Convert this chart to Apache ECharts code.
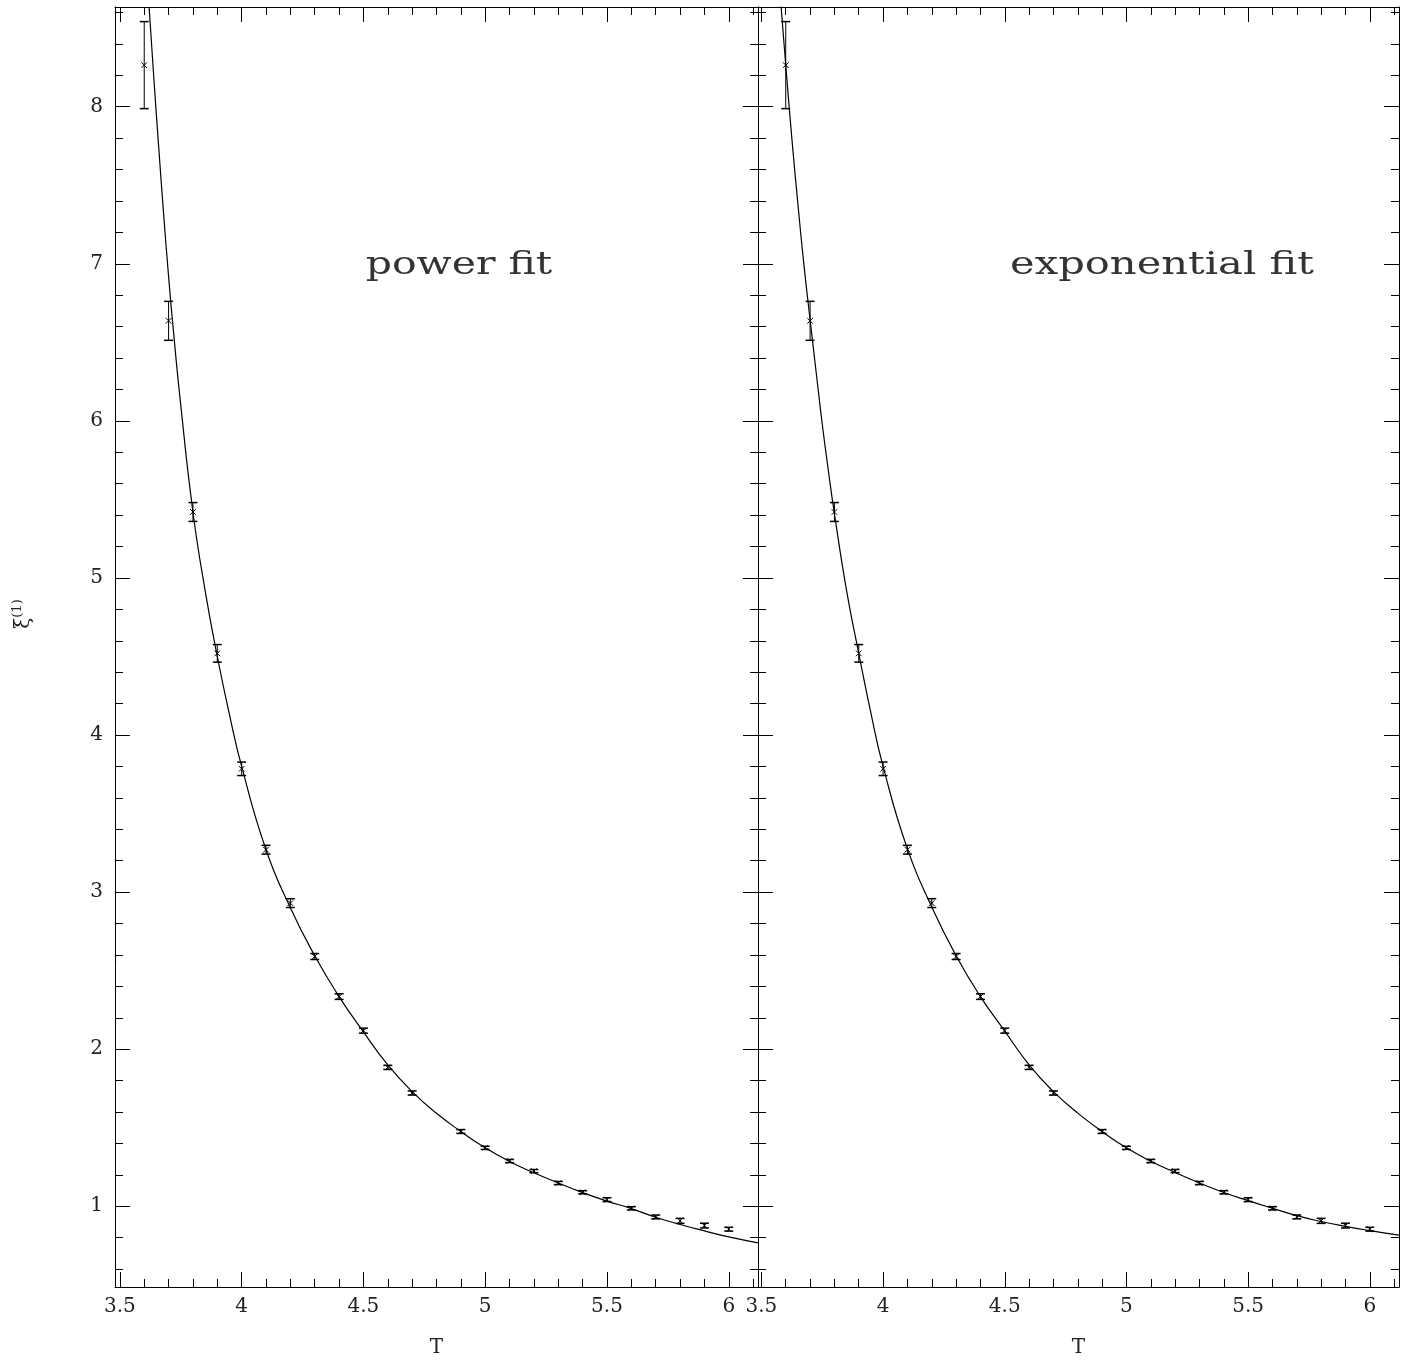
<!DOCTYPE html>
<html>
<head>
<meta charset="utf-8">
<title>xi(1) vs T</title>
<script src="https://cdn.jsdelivr.net/npm/echarts@6/dist/echarts.min.js"></script>
<style>
  html, body { margin: 0; padding: 0; background: #fff; }
  #main { width: 1411px; height: 1363px; }
</style>
</head>
<body>
<div id="main"></div>
<script>
// measured points, same data in both panels (T = 4.8 is missing)
var T = [3.6, 3.7, 3.8, 3.9, 4.0, 4.1, 4.2, 4.3, 4.4, 4.5, 4.6, 4.7,
         4.9, 5.0, 5.1, 5.2, 5.3, 5.4, 5.5, 5.6, 5.7, 5.8, 5.9, 6.0];
var xi = [8.265, 6.637, 5.42, 4.52, 3.785, 3.27, 2.93, 2.59, 2.335, 2.118, 1.884, 1.721,
          1.476, 1.372, 1.288, 1.224, 1.148, 1.089, 1.042, 0.987, 0.932, 0.907, 0.877, 0.854];
var xiErr = [0.277, 0.124, 0.06, 0.056, 0.043, 0.028, 0.028, 0.019, 0.018, 0.016, 0.013, 0.013,
             0.012, 0.01, 0.01, 0.01, 0.01, 0.01, 0.012, 0.01, 0.012, 0.016, 0.015, 0.012];

// power fit curve
var powerT = [3.62, 3.64, 3.66, 3.68, 3.70, 3.72, 3.75, 3.80, 3.85, 3.90, 3.95, 4.0,
              4.1, 4.2, 4.3, 4.4, 4.5, 4.6, 4.7, 4.8, 4.9, 5.0, 5.1, 5.2, 5.3, 5.4,
              5.5, 5.6, 5.7, 5.8, 5.9, 6.0, 6.12];
var powerXi = [8.635, 8.17, 7.73, 7.31, 6.92, 6.57, 6.10, 5.42, 4.92, 4.50, 4.13, 3.80,
               3.27, 2.90, 2.595, 2.335, 2.11, 1.90, 1.73, 1.592, 1.476, 1.372, 1.285, 1.213, 1.148, 1.087,
               1.033, 0.985, 0.930, 0.884, 0.843, 0.805, 0.767];

// exponential fit curve
var expT = [3.58, 3.60, 3.625, 3.65, 3.675, 3.70, 3.725, 3.75, 3.775, 3.80, 3.85, 3.90, 3.95, 4.0,
            4.1, 4.2, 4.3, 4.4, 4.5, 4.6, 4.7, 4.8, 4.9, 5.0, 5.1, 5.2, 5.3, 5.4,
            5.5, 5.6, 5.7, 5.8, 5.9, 6.0, 6.12];
var expXi = [8.655, 8.265, 7.80, 7.38, 6.99, 6.645, 6.31, 5.98, 5.685, 5.41, 4.92, 4.52, 4.14, 3.80,
             3.275, 2.905, 2.595, 2.335, 2.115, 1.90, 1.73, 1.593, 1.476, 1.372, 1.287, 1.215, 1.148, 1.088,
             1.036, 0.987, 0.94, 0.903, 0.872, 0.845, 0.816];

// ticks
var xMajor = [3.5, 4, 4.5, 5, 5.5, 6];
var xMinor = [3.5, 3.6, 3.7, 3.8, 3.9, 4.0, 4.1, 4.2, 4.3, 4.4, 4.5, 4.6, 4.7, 4.8, 4.9,
              5.0, 5.1, 5.2, 5.3, 5.4, 5.5, 5.6, 5.7, 5.8, 5.9, 6.0, 6.1];
var yMajor = [1, 2, 3, 4, 5, 6, 7, 8];
var yMinor = [0.6, 0.8, 1.0, 1.2, 1.4, 1.6, 1.8, 2.0, 2.2, 2.4, 2.6, 2.8, 3.0, 3.2, 3.4, 3.6,
              3.8, 4.0, 4.2, 4.4, 4.6, 4.8, 5.0, 5.2, 5.4, 5.6, 5.8, 6.0, 6.2, 6.4, 6.6, 6.8,
              7.0, 7.2, 7.4, 7.6, 7.8, 8.0, 8.2, 8.4, 8.6];

var FONT = 'DejaVu Serif';
var yMin = 0.486, yMax = 8.635;
var xRange = [[3.48, 6.12], [3.486, 6.12]];

var errData = T.map(function (t, i) { return [t, xi[i], xiErr[i]]; });

function renderErr(params, api) {
  var x = api.value(0), y = api.value(1), e = api.value(2);
  var c = api.coord([x, y]);
  var hi = api.coord([x, y + e])[1];
  var lo = api.coord([x, y - e])[1];
  var cap = 4.5, m = 2.8;
  var st = { stroke: '#000', lineWidth: 1, fill: null };
  var capSt = { stroke: '#000', lineWidth: 1.5, fill: null };
  return {
    type: 'group',
    children: [
      { type: 'line', shape: { x1: c[0], y1: hi, x2: c[0], y2: lo }, style: st },
      { type: 'line', shape: { x1: c[0] - cap, y1: hi, x2: c[0] + cap, y2: hi }, style: capSt },
      { type: 'line', shape: { x1: c[0] - cap, y1: lo, x2: c[0] + cap, y2: lo }, style: capSt },
      { type: 'line', shape: { x1: c[0] - m, y1: c[1] - m, x2: c[0] + m, y2: c[1] + m }, style: st },
      { type: 'line', shape: { x1: c[0] - m, y1: c[1] + m, x2: c[0] + m, y2: c[1] - m }, style: st }
    ]
  };
}

function xAxes(g) {
  var base = { gridIndex: g, type: 'value', min: xRange[g][0], max: xRange[g][1],
               splitLine: { show: false }, axisLine: { show: true, onZero: false, lineStyle: { color: '#000', width: 1 } } };
  return [
    Object.assign({}, base, {
      position: 'bottom',
      axisTick: { inside: true, length: 15, customValues: xMajor, lineStyle: { color: '#000' } },
      axisLabel: { customValues: xMajor, fontFamily: FONT, fontSize: 20, color: '#222', margin: 10 },
      name: 'T', nameLocation: 'middle', nameGap: 51,
      nameTextStyle: { fontFamily: FONT, fontSize: 20, color: '#222' }
    }),
    Object.assign({}, base, {
      position: 'bottom', axisLine: { show: false, onZero: false },
      axisTick: { inside: true, length: 8, customValues: xMinor, lineStyle: { color: '#000' } },
      axisLabel: { show: false }
    }),
    Object.assign({}, base, {
      position: 'top',
      axisTick: { inside: true, length: 15, customValues: xMajor, lineStyle: { color: '#000' } },
      axisLabel: { show: false }
    }),
    Object.assign({}, base, {
      position: 'top', axisLine: { show: false, onZero: false },
      axisTick: { inside: true, length: 8, customValues: xMinor, lineStyle: { color: '#000' } },
      axisLabel: { show: false }
    })
  ];
}

function yAxes(g) {
  var base = { gridIndex: g, type: 'value', min: yMin, max: yMax,
               splitLine: { show: false }, axisLine: { show: true, onZero: false, lineStyle: { color: '#000', width: 1 } } };
  return [
    Object.assign({}, base, {
      position: 'left',
      axisTick: { inside: true, length: 15, customValues: yMajor, lineStyle: { color: '#000' } },
      axisLabel: g === 0
        ? { customValues: yMajor, fontFamily: FONT, fontSize: 20, color: '#222', margin: 12 }
        : { show: false }
    }),
    Object.assign({}, base, {
      position: 'left', axisLine: { show: false, onZero: false },
      axisTick: { inside: true, length: 8, customValues: yMinor, lineStyle: { color: '#000' } },
      axisLabel: { show: false }
    }),
    Object.assign({}, base, {
      position: 'right',
      axisTick: { inside: true, length: 15, customValues: yMajor, lineStyle: { color: '#000' } },
      axisLabel: { show: false }
    }),
    Object.assign({}, base, {
      position: 'right', axisLine: { show: false, onZero: false },
      axisTick: { inside: true, length: 8, customValues: yMinor, lineStyle: { color: '#000' } },
      axisLabel: { show: false }
    })
  ];
}

var chart = echarts.init(document.getElementById('main'), null, { renderer: 'canvas' });

chart.setOption({
  animation: false,
  backgroundColor: '#fff',
  grid: [
    { left: 115, top: 7, width: 643, height: 1283 },
    { left: 758, top: 7, width: 641, height: 1283 }
  ],
  xAxis: xAxes(0).concat(xAxes(1)),
  yAxis: yAxes(0).concat(yAxes(1)),
  graphic: [
    {
      type: 'text', x: 459, y: 266, scaleX: 1.28,
      style: { text: 'power fit', fontFamily: FONT, fontSize: 32, fill: '#333',
               align: 'center', verticalAlign: 'middle' }
    },
    {
      type: 'text', x: 1162, y: 266, scaleX: 1.3,
      style: { text: 'exponential fit', fontFamily: FONT, fontSize: 32, fill: '#333',
               align: 'center', verticalAlign: 'middle' }
    },
    {
      type: 'text', x: 24, y: 614, rotation: Math.PI / 2,
      style: {
        text: '{a|ξ}{b|(1)}', align: 'center', verticalAlign: 'middle',
        rich: {
          a: { fontFamily: FONT, fontSize: 20, fill: '#222', lineHeight: 26 },
          b: { fontFamily: FONT, fontSize: 13, fill: '#222', verticalAlign: 'top' }
        }
      }
    }
  ],
  series: [
    {
      type: 'line', xAxisIndex: 0, yAxisIndex: 0,
      data: powerT.map(function (t, i) { return [t, powerXi[i]]; }),
      showSymbol: false, smooth: 0.5, clip: true,
      lineStyle: { color: '#000', width: 1.2 }
    },
    {
      type: 'custom', xAxisIndex: 0, yAxisIndex: 0, clip: true,
      data: errData, encode: { x: 0, y: 1 }, renderItem: renderErr
    },
    {
      type: 'line', xAxisIndex: 4, yAxisIndex: 4,
      data: expT.map(function (t, i) { return [t, expXi[i]]; }),
      showSymbol: false, smooth: 0.5, clip: true,
      lineStyle: { color: '#000', width: 1.2 }
    },
    {
      type: 'custom', xAxisIndex: 4, yAxisIndex: 4, clip: true,
      data: errData, encode: { x: 0, y: 1 }, renderItem: renderErr
    }
  ]
});
</script>
</body>
</html>
